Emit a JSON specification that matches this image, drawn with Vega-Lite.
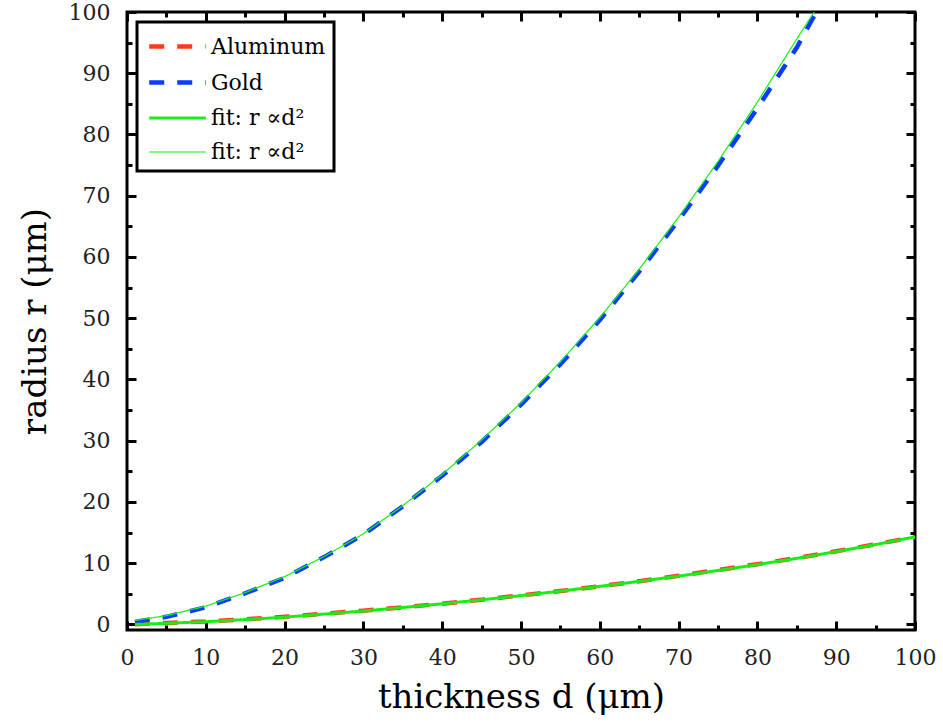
{
  "$schema": "https://vega.github.io/schema/vega-lite/v6.json",
  "width": 788,
  "height": 618,
  "autosize": "none",
  "padding": {"left": 127, "top": 12, "right": 28, "bottom": 92},
  "background": "white",
  "datasets": {
    "main": [
      {"d": 1, "r": 0.05, "series": "Aluminum"},
      {"d": 5, "r": 0.25, "series": "Aluminum"},
      {"d": 10, "r": 0.5, "series": "Aluminum"},
      {"d": 15, "r": 0.85, "series": "Aluminum"},
      {"d": 20, "r": 1.25, "series": "Aluminum"},
      {"d": 25, "r": 1.75, "series": "Aluminum"},
      {"d": 30, "r": 2.25, "series": "Aluminum"},
      {"d": 35, "r": 2.8, "series": "Aluminum"},
      {"d": 40, "r": 3.4, "series": "Aluminum"},
      {"d": 45, "r": 4.05, "series": "Aluminum"},
      {"d": 50, "r": 4.75, "series": "Aluminum"},
      {"d": 55, "r": 5.45, "series": "Aluminum"},
      {"d": 60, "r": 6.25, "series": "Aluminum"},
      {"d": 65, "r": 7.05, "series": "Aluminum"},
      {"d": 70, "r": 7.95, "series": "Aluminum"},
      {"d": 75, "r": 8.9, "series": "Aluminum"},
      {"d": 80, "r": 9.85, "series": "Aluminum"},
      {"d": 85, "r": 10.85, "series": "Aluminum"},
      {"d": 90, "r": 11.95, "series": "Aluminum"},
      {"d": 95, "r": 13.1, "series": "Aluminum"},
      {"d": 100, "r": 14.3, "series": "Aluminum"},
      {"d": 1, "r": 0.4, "series": "Gold"},
      {"d": 5, "r": 1.25, "series": "Gold"},
      {"d": 10, "r": 2.8, "series": "Gold"},
      {"d": 15, "r": 5.1, "series": "Gold"},
      {"d": 20, "r": 7.6, "series": "Gold"},
      {"d": 25, "r": 11.0, "series": "Gold"},
      {"d": 30, "r": 14.7, "series": "Gold"},
      {"d": 35, "r": 19.3, "series": "Gold"},
      {"d": 40, "r": 24.3, "series": "Gold"},
      {"d": 45, "r": 29.8, "series": "Gold"},
      {"d": 50, "r": 35.9, "series": "Gold"},
      {"d": 55, "r": 42.5, "series": "Gold"},
      {"d": 60, "r": 49.7, "series": "Gold"},
      {"d": 65, "r": 57.6, "series": "Gold"},
      {"d": 70, "r": 66.0, "series": "Gold"},
      {"d": 75, "r": 74.9, "series": "Gold"},
      {"d": 80, "r": 84.3, "series": "Gold"},
      {"d": 85, "r": 94.2, "series": "Gold"},
      {"d": 87.3, "r": 99.6, "series": "Gold"}
    ],
    "fits": [
      {"d": 1, "r": 0.0, "series": "fitAl"},
      {"d": 5, "r": 0.2, "series": "fitAl"},
      {"d": 10, "r": 0.45, "series": "fitAl"},
      {"d": 15, "r": 0.8, "series": "fitAl"},
      {"d": 20, "r": 1.2, "series": "fitAl"},
      {"d": 25, "r": 1.7, "series": "fitAl"},
      {"d": 30, "r": 2.2, "series": "fitAl"},
      {"d": 35, "r": 2.78, "series": "fitAl"},
      {"d": 40, "r": 3.38, "series": "fitAl"},
      {"d": 45, "r": 4.03, "series": "fitAl"},
      {"d": 50, "r": 4.72, "series": "fitAl"},
      {"d": 55, "r": 5.45, "series": "fitAl"},
      {"d": 60, "r": 6.22, "series": "fitAl"},
      {"d": 65, "r": 7.04, "series": "fitAl"},
      {"d": 70, "r": 7.9, "series": "fitAl"},
      {"d": 75, "r": 8.82, "series": "fitAl"},
      {"d": 80, "r": 9.78, "series": "fitAl"},
      {"d": 85, "r": 10.8, "series": "fitAl"},
      {"d": 90, "r": 11.9, "series": "fitAl"},
      {"d": 95, "r": 13.05, "series": "fitAl"},
      {"d": 100, "r": 14.3, "series": "fitAl"},
      {"d": 1, "r": 0.65, "series": "fitAu"},
      {"d": 5, "r": 1.45, "series": "fitAu"},
      {"d": 10, "r": 3.0, "series": "fitAu"},
      {"d": 15, "r": 5.2, "series": "fitAu"},
      {"d": 20, "r": 7.8, "series": "fitAu"},
      {"d": 25, "r": 11.1, "series": "fitAu"},
      {"d": 30, "r": 14.8, "series": "fitAu"},
      {"d": 35, "r": 19.4, "series": "fitAu"},
      {"d": 40, "r": 24.5, "series": "fitAu"},
      {"d": 45, "r": 30.1, "series": "fitAu"},
      {"d": 50, "r": 36.2, "series": "fitAu"},
      {"d": 55, "r": 42.9, "series": "fitAu"},
      {"d": 60, "r": 50.1, "series": "fitAu"},
      {"d": 65, "r": 58.0, "series": "fitAu"},
      {"d": 70, "r": 66.5, "series": "fitAu"},
      {"d": 75, "r": 75.6, "series": "fitAu"},
      {"d": 80, "r": 85.3, "series": "fitAu"},
      {"d": 85, "r": 95.6, "series": "fitAu"},
      {"d": 87.2, "r": 100.0, "series": "fitAu"}
    ]
  },
  "config": {
    "view": {"stroke": "black", "strokeWidth": 3},
    "font": "DejaVu Serif",
    "axis": {
      "grid": false,
      "domain": false,
      "tickColor": "black",
      "labelFont": "DejaVu Serif",
      "labelFontSize": 22,
      "labelColor": "#222222",
      "titleFont": "DejaVu Serif",
      "titleFontSize": 34,
      "titleFontWeight": "normal",
      "titleColor": "black"
    },
    "legend": {
      "orient": "top-left",
      "offset": 10,
      "title": null,
      "fillColor": "white",
      "strokeColor": "black",
      "strokeWidth": 3,
      "padding": 8,
      "labelFont": "DejaVu Serif",
      "labelFontSize": 22,
      "labelColor": "black",
      "symbolType": "M-2,0H2",
      "symbolSize": 800,
      "symbolOffset": 16,
      "rowPadding": 8,
      "labelOffset": 17
    }
  },
  "resolve": {"axis": {"x": "independent", "y": "independent"}},
  "layer": [
    {
      "data": {"name": "main"},
      "mark": {"type": "line", "clip": true, "strokeCap": "butt"},
      "encoding": {
        "x": {"field": "d", "type": "quantitative", "scale": {"domain": [0, 100], "nice": false},
          "axis": {"orient": "bottom", "values": [0, 10, 20, 30, 40, 50, 60, 70, 80, 90, 100], "tickSize": -9, "tickWidth": 3, "labelPadding": 26, "labelFlush": false, "title": "thickness d (μm)", "titlePadding": 12}},
        "y": {"field": "r", "type": "quantitative", "scale": {"domain": [-0.9, 100], "nice": false, "zero": false},
          "axis": {"orient": "left", "values": [0, 10, 20, 30, 40, 50, 60, 70, 80, 90, 100], "tickSize": -9, "tickWidth": 3, "labelPadding": 26, "labelFlush": false, "title": "radius r (μm)", "titlePadding": 16}},
        "color": {"field": "series", "type": "nominal", "scale": {"domain": ["Aluminum", "Gold", "fitAl", "fitAu"], "range": ["#ff3a1a", "#0a3cff", "#16ee16", "#16ee16"]},
          "legend": {"labelExpr": "indexof(datum.value, 'fit') == 0 ? 'fit: r ∝d²' : datum.value"}},
        "strokeDash": {"field": "series", "type": "nominal", "scale": {"domain": ["Aluminum", "Gold", "fitAl", "fitAu"], "range": [[15, 13], [15, 13], [1, 0], [1, 0]]}},
        "strokeWidth": {"field": "series", "type": "nominal", "scale": {"type": "ordinal", "domain": ["Aluminum", "Gold", "fitAl", "fitAu"], "range": [4.5, 4.5, 3, 1.2]}}
      }
    },
    {
      "data": {"name": "fits"},
      "mark": {"type": "line", "clip": true},
      "encoding": {
        "x": {"field": "d", "type": "quantitative",
          "axis": {"orient": "bottom", "values": [5, 15, 25, 35, 45, 55, 65, 75, 85, 95], "tickSize": -5, "tickWidth": 3, "labels": false, "title": null}},
        "y": {"field": "r", "type": "quantitative",
          "axis": {"orient": "left", "values": [5, 15, 25, 35, 45, 55, 65, 75, 85, 95], "tickSize": -5, "tickWidth": 3, "labels": false, "title": null}},
        "color": {"field": "series", "type": "nominal", "scale": {"domain": ["Aluminum", "Gold", "fitAl", "fitAu"], "range": ["#ff3a1a", "#0a3cff", "#16ee16", "#16ee16"]},
          "legend": {"labelExpr": "indexof(datum.value, 'fit') == 0 ? 'fit: r ∝d²' : datum.value"}},
        "strokeDash": {"field": "series", "type": "nominal", "scale": {"domain": ["Aluminum", "Gold", "fitAl", "fitAu"], "range": [[15, 13], [15, 13], [1, 0], [1, 0]]}},
        "strokeWidth": {"field": "series", "type": "nominal", "scale": {"type": "ordinal", "domain": ["Aluminum", "Gold", "fitAl", "fitAu"], "range": [4.5, 4.5, 3, 1.2]}}
      }
    },
    {
      "data": {"name": "main"},
      "mark": {"type": "line", "opacity": 0},
      "encoding": {
        "x": {"field": "d", "type": "quantitative",
          "axis": {"orient": "top", "values": [0, 10, 20, 30, 40, 50, 60, 70, 80, 90, 100], "tickSize": -9, "tickWidth": 3, "labels": false, "title": null}},
        "y": {"field": "r", "type": "quantitative",
          "axis": {"orient": "right", "values": [0, 10, 20, 30, 40, 50, 60, 70, 80, 90, 100], "tickSize": -9, "tickWidth": 3, "labels": false, "title": null}},
        "detail": {"field": "series", "type": "nominal"}
      }
    },
    {
      "data": {"name": "main"},
      "mark": {"type": "line", "opacity": 0},
      "encoding": {
        "x": {"field": "d", "type": "quantitative",
          "axis": {"orient": "top", "values": [5, 15, 25, 35, 45, 55, 65, 75, 85, 95], "tickSize": -5, "tickWidth": 3, "labels": false, "title": null}},
        "y": {"field": "r", "type": "quantitative",
          "axis": {"orient": "right", "values": [5, 15, 25, 35, 45, 55, 65, 75, 85, 95], "tickSize": -5, "tickWidth": 3, "labels": false, "title": null}},
        "detail": {"field": "series", "type": "nominal"}
      }
    }
  ]
}
